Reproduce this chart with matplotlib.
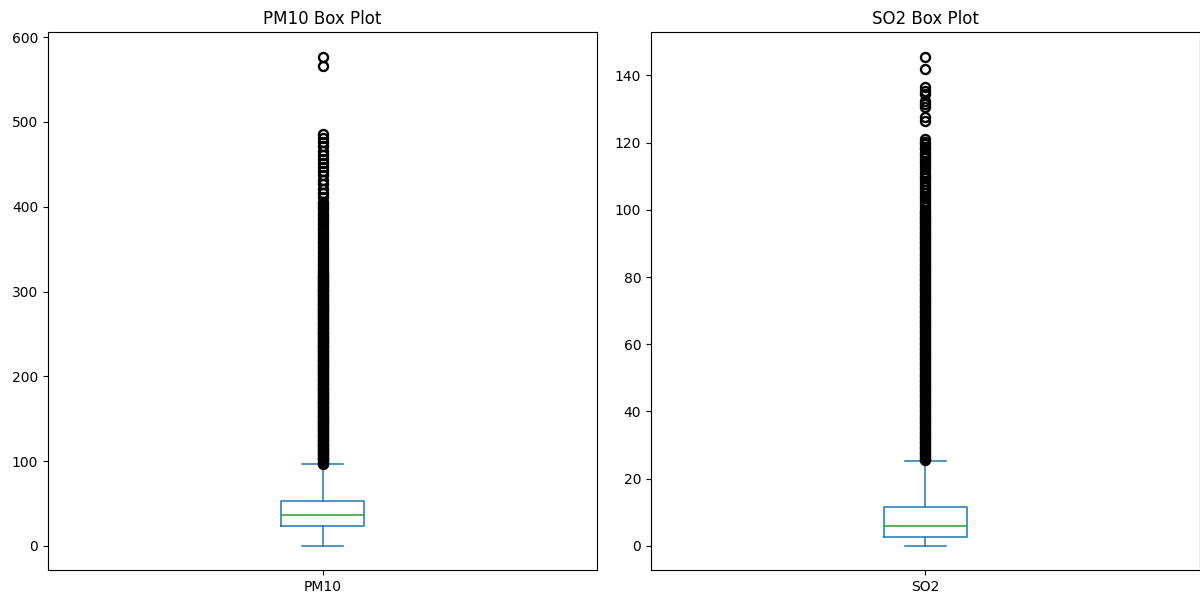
import matplotlib
matplotlib.use("Agg")
import matplotlib.pyplot as plt

# summary stats
pm10_stats = dict(med=36.6, q1=23.6, q3=53.1, whislo=0.5, whishi=96.8)
so2_stats = dict(med=6.0, q1=2.7, q3=11.6, whislo=0.1, whishi=25.3)

pm10_outliers = [
    577, 566, 486, 481, 476, 471, 466, 461, 456, 451, 447, 442, 437, 432,
    427, 421, 416, 411, 406, 403, 400, 397, 393, 390, 387, 384, 381, 378,
    375, 372, 369, 366, 363, 360, 357, 354, 351, 348, 345, 342, 339, 336,
    333, 330, 327, 324, 321.5,
    320, 318.5, 317, 315.5, 314, 312.5, 311, 309.5, 308, 306.5,
    305, 303.5, 302, 300.5, 299, 297.5, 296, 294.5, 293, 291.5,
    290, 288.5, 287, 285.5, 284, 282.5, 281, 279.5, 278, 276.5,
    275, 273.5, 272, 270.5, 269, 267.5, 266, 264.5, 263, 261.5,
    260, 258.5, 257, 255.5, 254, 252.5, 251, 249.5, 248, 246.5,
    245, 243.5, 242, 240.5, 239, 237.5, 236, 234.5, 233, 231.5,
    230, 228.5, 227, 225.5, 224, 222.5, 221, 219.5, 218, 216.5,
    215, 213.5, 212, 210.5, 209, 207.5, 206, 204.5, 203, 201.5,
    200, 198.5, 197, 195.5, 194, 192.5, 191, 189.5, 188, 186.5,
    185, 183.5, 182, 180.5, 179, 177.5, 176, 174.5, 173, 171.5,
    170, 168.5, 167, 165.5, 164, 162.5, 161, 159.5, 158, 156.5,
    155, 153.5, 152, 150.5, 149, 147.5, 146, 144.5, 143, 141.5,
    140, 138.5, 137, 135.5, 134, 132.5, 131, 129.5, 128, 126.5,
    125, 123.5, 122, 120.5, 119, 117.5, 116, 114.5, 113, 111.5,
    110, 108.5, 107, 105.5, 104, 102.5, 101, 99.5, 98, 97.2,
]

so2_outliers = [
    145.6, 142.0, 136.5, 135.5, 134.5, 132.5, 131.5, 130.5, 127.5, 126.5,
    121.0, 120.3, 119.5, 118.8, 118.0, 117.0, 116.3, 115.5, 114.6, 113.8,
    113.0, 112.0, 111.0, 110.2, 109.4, 108.5, 107.6, 106.8, 106.0, 105.0,
    104.2, 103.4, 102.5, 101.6, 100.8,
    100.0, 99.5, 99.0, 98.5, 98.0, 97.5, 97.0, 96.5, 96.0, 95.5,
    95.0, 94.5, 94.0, 93.5, 93.0, 92.5, 92.0, 91.5, 91.0, 90.5,
    90.0, 89.5, 89.0, 88.5, 88.0, 87.5, 87.0, 86.5, 86.0, 85.5,
    85.0, 84.5, 84.0, 83.5, 83.0, 82.5, 82.0, 81.5, 81.0, 80.5,
    80.0, 79.5, 79.0, 78.5, 78.0, 77.5, 77.0, 76.5, 76.0, 75.5,
    75.0, 74.5, 74.0, 73.5, 73.0, 72.5, 72.0, 71.5, 71.0, 70.5,
    70.0, 69.5, 69.0, 68.5, 68.0, 67.5, 67.0, 66.5, 66.0, 65.5,
    65.0, 64.5, 64.0, 63.5, 63.0, 62.5, 62.0, 61.5, 61.0, 60.5,
    60.0, 59.5, 59.0, 58.5, 58.0, 57.5, 57.0, 56.5, 56.0, 55.5,
    55.0, 54.5, 54.0, 53.5, 53.0, 52.5, 52.0, 51.5, 51.0, 50.5,
    50.0, 49.5, 49.0, 48.5, 48.0, 47.5, 47.0, 46.5, 46.0, 45.5,
    45.0, 44.5, 44.0, 43.5, 43.0, 42.5, 42.0, 41.5, 41.0, 40.5,
    40.0, 39.5, 39.0, 38.5, 38.0, 37.5, 37.0, 36.5, 36.0, 35.5,
    35.0, 34.5, 34.0, 33.5, 33.0, 32.5, 32.0, 31.5, 31.0, 30.5,
    30.0, 29.5, 29.0, 28.5, 28.0, 27.5, 27.0, 26.5, 26.0, 25.5,
]

panels = [
    ("PM10", pm10_stats, pm10_outliers),
    ("SO2", so2_stats, so2_outliers),
]

fig, axes = plt.subplots(1, 2, figsize=(12, 5.95), dpi=100)
# right panel runs off the edge of the picture, as in the reference
plt.subplots_adjust(left=0.04, right=1.0, top=0.946, bottom=0.042, wspace=0.098)

for ax, (name, st, fl) in zip(axes, panels):
    stats = dict(st, fliers=fl, label=name)
    ax.bxp([stats],
           boxprops=dict(color="#1f77b4", linewidth=1.1),
           whiskerprops=dict(color="#1f77b4", linewidth=1.1),
           capprops=dict(color="#1f77b4", linewidth=1.1),
           medianprops=dict(color="#2ca02c", linewidth=1.1),
           flierprops=dict(marker="o", markersize=6.5, markerfacecolor="none",
                           markeredgecolor="black", markeredgewidth=1.7))
    ax.set_title(name + " Box Plot")

fig.savefig("out.png")
